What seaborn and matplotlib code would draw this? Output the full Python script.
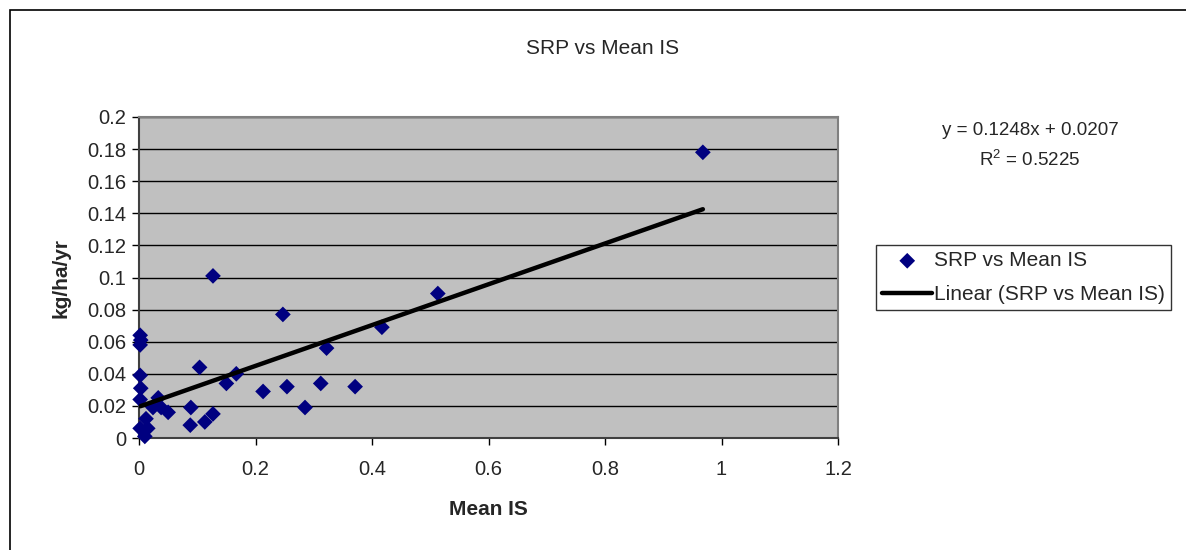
import numpy as np
import pandas as pd
import matplotlib
matplotlib.use("Agg")
import matplotlib.pyplot as plt
import seaborn as sns
from matplotlib.patches import Rectangle

# data
mean_is = [0.002, 0.003, 0.002, 0.002, 0.003, 0.002, 0.033, 0.024, 0.038, 0.050,
           0.012, 0.002, 0.015, 0.010, 0.104, 0.089, 0.088, 0.113, 0.127, 0.127,
           0.150, 0.167, 0.213, 0.247, 0.254, 0.285, 0.312, 0.322, 0.371, 0.417,
           0.513, 0.968]
srp = [0.064, 0.061, 0.058, 0.039, 0.031, 0.024, 0.025, 0.019, 0.019, 0.016,
       0.012, 0.006, 0.006, 0.001, 0.044, 0.019, 0.008, 0.010, 0.015, 0.101,
       0.034, 0.040, 0.029, 0.077, 0.032, 0.019, 0.034, 0.056, 0.032, 0.069,
       0.090, 0.178]
x_ticks = [0, 0.2, 0.4, 0.6, 0.8, 1, 1.2]
y_ticks = [0, 0.02, 0.04, 0.06, 0.08, 0.1, 0.12, 0.14, 0.16, 0.18, 0.2]
eq_text = "y = 0.1248x + 0.0207\n$\\mathregular{R^2}$ = 0.5225"

df = pd.DataFrame({"Mean IS": mean_is, "SRP": srp})

sns.set_style("white")
plt.rcParams["font.family"] = ["Liberation Sans", "DejaVu Sans"]

W, H = 1186, 550
fig = plt.figure(figsize=(W / 100, H / 100), dpi=100)
ax = fig.add_axes([139 / W, 1 - 438 / H, (838 - 139) / W, (438 - 117) / H])
ax.set_facecolor("#C0C0C0")

sns.scatterplot(data=df, x="Mean IS", y="SRP", marker="D", s=64, color="#000080",
                edgecolor="none", ax=ax, label="SRP vs Mean IS", zorder=3, clip_on=False)
sns.regplot(data=df, x="Mean IS", y="SRP", scatter=False, ci=None, truncate=True,
            ax=ax, label="Linear (SRP vs Mean IS)",
            line_kws={"color": "black", "lw": 3.2, "solid_capstyle": "round", "zorder": 4})

ax.set_xlim(0, 1.2)
ax.set_ylim(0, 0.2)
ax.set_xticks(x_ticks)
ax.set_yticks(y_ticks)
ax.set_xticklabels([f"{v:g}" for v in x_ticks])
ax.set_yticklabels([f"{v:g}" for v in y_ticks])
ax.yaxis.grid(True, color="black", lw=1)
ax.set_axisbelow(True)
ax.tick_params(axis="both", direction="out", length=5, width=1, color="black",
               labelsize=14.5, pad=4, left=True, bottom=True)
ax.tick_params(axis="x", pad=11)
for side in ["top", "right"]:
    ax.spines[side].set_color("#808080")
    ax.spines[side].set_linewidth(1.5)
for side in ["left", "bottom"]:
    ax.spines[side].set_color("#404040")
    ax.spines[side].set_linewidth(1.5)

ax.set_xlabel("Mean IS", fontsize=15, fontweight="bold", labelpad=15)
ax.set_ylabel("kg/ha/yr", fontsize=15, fontweight="bold", labelpad=12)
fig.text(603 / W, 1 - 48 / H, "SRP vs Mean IS", ha="center", va="center", fontsize=15)
fig.text(1030 / W, 1 - 146 / H, eq_text, ha="center", va="center", fontsize=13.5,
         linespacing=1.65)

leg = ax.legend(loc="upper left", bbox_to_anchor=(876 / W, 1 - 245 / H),
                bbox_transform=fig.transFigure, fontsize=15, frameon=True,
                fancybox=False, edgecolor="black", handlelength=2.4,
                handletextpad=0.1, borderpad=0.3, labelspacing=0.7, borderaxespad=0)
leg.get_frame().set_linewidth(1)

fig.patches.append(Rectangle((10 / W, -0.1), 1.2, 1 - 10 / H + 0.1, transform=fig.transFigure,
                             fill=False, edgecolor="black", lw=1.2))

fig.savefig("out.png", dpi=100, facecolor="white")
